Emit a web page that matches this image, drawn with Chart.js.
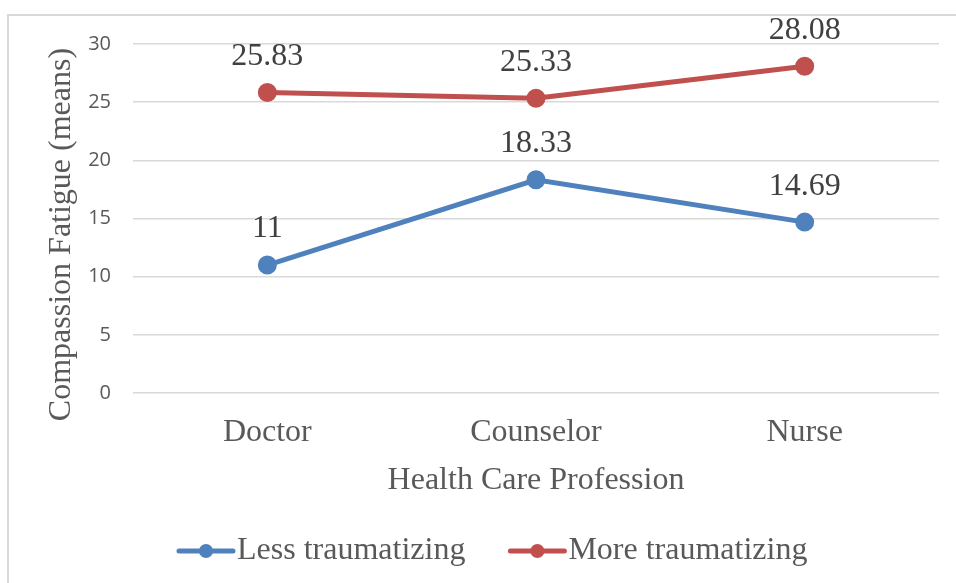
<!DOCTYPE html>
<html>
<head>
<meta charset="utf-8">
<script src="https://cdn.jsdelivr.net/npm/chart.js@4"></script>
<style>
  html, body { margin: 0; padding: 0; background: #fff; }
  #wrap { width: 956px; height: 583px; }
</style>
</head>
<body>
<div id="wrap"><canvas id="chart1Vis"></canvas></div>
<script>
var professions = ['Doctor', 'Counselor', 'Nurse'];
var lessTraumatizing = [11, 18.33, 14.69];
var moreTraumatizing = [25.83, 25.33, 28.08];
var valueLabels = [['11', '18.33', '14.69'], ['25.83', '25.33', '28.08']];
var yTicks = [0, 5, 10, 15, 20, 25, 30];

var textGray = '#595959';
var serif = '"Liberation Serif", "Times New Roman", serif';

// border round the chart, only top and left edges are visible
var frame = {
    id: 'frame',
    beforeDraw: function(chart) {
        var c = chart.ctx;
        c.save();
        c.strokeStyle = '#d9d9d9';
        c.lineWidth = 2;
        c.strokeRect(8, 15, 1200, 1200);
        c.restore();
    }
};

// numbers above each point
var pointValues = {
    id: 'pointValues',
    afterDatasetsDraw: function(chart) {
        var c = chart.ctx;
        c.save();
        c.font = '32px ' + serif;
        c.fillStyle = '#404040';
        c.textAlign = 'center';
        c.textBaseline = 'middle';
        chart.data.datasets.forEach(function(ds, i) {
            chart.getDatasetMeta(i).data.forEach(function(pt, j) {
                c.fillText(valueLabels[i][j], pt.x, pt.y - 36);
            });
        });
        c.restore();
    }
};

// legend with line + dot marker
var lineLegend = {
    id: 'lineLegend',
    afterDraw: function(chart) {
        var c = chart.ctx;
        var x = 177, y = 551;
        c.save();
        c.font = '32px ' + serif;
        c.textBaseline = 'middle';
        chart.data.datasets.forEach(function(ds) {
            c.strokeStyle = ds.borderColor;
            c.lineWidth = 5;
            c.lineCap = 'round';
            c.beginPath();
            c.moveTo(x + 2, y);
            c.lineTo(x + 56, y);
            c.stroke();
            c.fillStyle = ds.borderColor;
            c.beginPath();
            c.arc(x + 29, y, 7, 0, Math.PI * 2);
            c.fill();
            c.fillStyle = textGray;
            c.fillText(ds.label, x + 60, y);
            x += 60 + c.measureText(ds.label).width + 43;
        });
        c.restore();
    }
};

var ctx = document.getElementById('chart1Vis').getContext('2d');

var myLineChart = new Chart(ctx, {
    type: 'line',
    data: {
        labels: professions,
        datasets: [
            {
                label: 'Less traumatizing',
                data: lessTraumatizing,
                borderColor: '#4F81BD',
                backgroundColor: '#4F81BD',
                borderWidth: 5,
                pointRadius: 7,
                pointHoverRadius: 7,
                tension: 0
            },
            {
                label: 'More traumatizing',
                data: moreTraumatizing,
                borderColor: '#C0504D',
                backgroundColor: '#C0504D',
                borderWidth: 5,
                pointRadius: 7,
                pointHoverRadius: 7,
                tension: 0
            }
        ]
    },
    options: {
        responsive: true,
        maintainAspectRatio: false,
        animation: false,
        layout: {
            padding: { top: 44, right: 17, left: 8, bottom: 86 }
        },
        plugins: {
            legend: { display: false },
            tooltip: { enabled: false }
        },
        scales: {
            x: {
                offset: true,
                grid: { display: false, drawTicks: false },
                border: { display: false },
                ticks: {
                    color: textGray,
                    font: { family: serif, size: 32, lineHeight: 1 },
                    padding: 24
                },
                title: {
                    display: true,
                    text: 'Health Care Profession',
                    color: textGray,
                    font: { family: serif, size: 32, lineHeight: 1 },
                    padding: { top: -8, bottom: 0 }
                }
            },
            y: {
                min: 0,
                max: 30,
                afterBuildTicks: function(scale) {
                    scale.ticks = yTicks.map(function(v) { return { value: v }; });
                },
                afterFit: function(scale) {
                    scale.width = 125;
                },
                grid: {
                    color: '#d9d9d9',
                    lineWidth: 1.5,
                    drawTicks: false
                },
                border: { display: false },
                ticks: {
                    color: textGray,
                    font: { family: '"Open Sans", sans-serif', size: 20 },
                    padding: 22
                },
                title: {
                    display: true,
                    text: 'Compassion Fatigue (means)\u00a0\u00a0\u00a0\u00a0',
                    color: textGray,
                    font: { family: serif, size: 32 },
                    padding: { top: 34, bottom: 0 }
                }
            }
        }
    },
    plugins: [frame, pointValues, lineLegend]
});
</script>
</body>
</html>
